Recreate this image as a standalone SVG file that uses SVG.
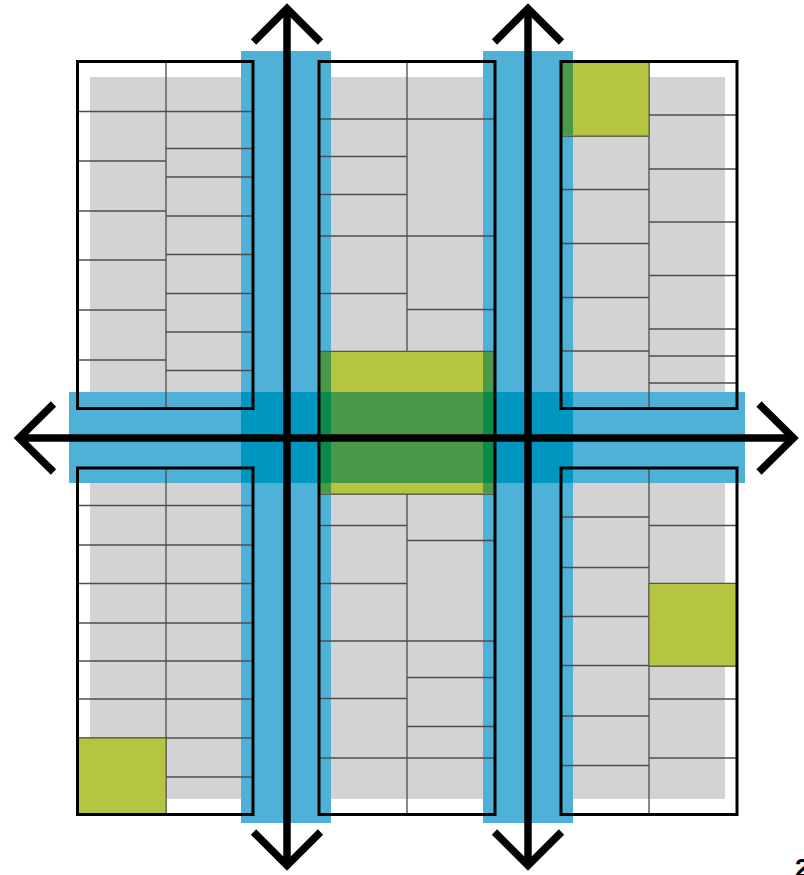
<svg xmlns="http://www.w3.org/2000/svg" width="804" height="875" viewBox="0 0 804 875">
<style>
.gray{fill:#d3d3d3}
.blue{fill:#4fb0d8}
.blue2{fill:#0096c0}
.cell{stroke:#4d4d4d;stroke-width:1.3;fill:none}
.green{fill:#b5c542;stroke:#5a5a3a;stroke-width:1}
.g1{fill:#4a994b}
.g2{fill:#0b8a4a}
.outline{fill:none;stroke:#000;stroke-width:3}
.axis{fill:none;stroke:#000;stroke-width:7.5;stroke-linejoin:miter;stroke-miterlimit:10}
</style>
<rect width="804" height="875" fill="#fff"/>
<g id="gray-fill">
<rect class="gray" x="90" y="77" width="163" height="331"/>
<rect class="gray" x="90" y="468" width="163" height="331"/>
<rect class="gray" x="319" y="77" width="176" height="722"/>
<rect class="gray" x="561" y="77" width="164" height="331"/>
<rect class="gray" x="561" y="468" width="164" height="331"/>
</g>
<g id="corridors">
<rect class="blue" x="241" y="51" width="90" height="772"/>
<rect class="blue" x="483" y="51" width="90" height="772"/>
<rect class="blue" x="69" y="392" width="676" height="91"/>
<rect class="blue2" x="241" y="392" width="90" height="91"/>
<rect class="blue2" x="483" y="392" width="90" height="91"/>
</g>
<g id="block-tl">
<path class="cell" d="M166 61.5V408.5M77.5 111.5H253M77.5 161H166M77.5 211H166M77.5 260H166M77.5 310H166M77.5 360H166M166 148.5H253M166 177H253M166 216H253M166 254.5H253M166 293.5H253M166 332H253M166 370.5H253"/>
</g>
<g id="block-bl">
<path class="cell" d="M166 468V814.5M77.5 505.5H253M77.5 545H253M77.5 583.5H253M77.5 623H253M77.5 661H253M77.5 699H253M77.5 738H253M166 777H253"/>
</g>
<g id="block-c">
<path class="cell" d="M407 61.5V814.5M319 119H495M319 236H495M319 351.5H495M319 494H495M319 641H495M319 758H495M319 156.5H407M319 194.5H407M319 293.5H407M319 525.5H407M319 583.5H407M319 698.5H407M407 309.5H495M407 540.5H495M407 677.5H495M407 726.5H495"/>
</g>
<g id="block-tr">
<path class="cell" d="M649 61.5V408.5M561 136H649M561 189.5H649M561 243.5H649M561 297.5H649M561 351H649M649 115H737M649 169H737M649 222H737M649 275.5H737M649 329H737M649 356H737M649 383H737"/>
</g>
<g id="block-br">
<path class="cell" d="M649 468V814.5M561 517H649M561 567.5H649M561 616.5H649M561 665.5H649M561 716H649M561 765.5H649M649 525.5H737M649 583.5H737M649 666H737M649 699H737M649 758H737"/>
</g>
<g id="green-areas">
<rect class="green" x="319" y="351.5" width="176" height="142.5"/>
<rect class="g1" x="319.5" y="392" width="175" height="91"/>
<rect class="g1" x="319.5" y="352" width="11.5" height="141.5"/>
<rect class="g1" x="483" y="352" width="11.5" height="141.5"/>
<rect class="g2" x="319.5" y="392" width="11.5" height="91"/>
<rect class="g2" x="483" y="392" width="11.5" height="91"/>
<rect class="green" x="561" y="61.5" width="88" height="74.5"/>
<rect class="g1" x="561" y="62" width="12" height="73.5"/>
<rect class="green" x="77.5" y="738" width="88.5" height="76.5"/>
<rect class="green" x="649" y="583.5" width="88" height="82.5"/>
</g>
<g id="outlines">
<rect class="outline" x="77.5" y="61.5" width="175.5" height="347"/>
<rect class="outline" x="77.5" y="468" width="175.5" height="346.5"/>
<rect class="outline" x="319" y="61.5" width="176" height="753"/>
<rect class="outline" x="561" y="61.5" width="176" height="347"/>
<rect class="outline" x="561" y="468" width="176" height="346.5"/>
</g>
<g id="connectors">
<path class="axis" d="M287 8V866"/>
<path class="axis" d="M528 8V866"/>
<path class="axis" d="M18.6 438H793.7"/>
<path class="axis" d="M253.5 42L287 8.5L320.5 42"/>
<path class="axis" d="M494.5 42L528 8.5L561.5 42"/>
<path class="axis" d="M253.5 832L287 865.5L320.5 832"/>
<path class="axis" d="M494.5 832L528 865.5L561.5 832"/>
<path class="axis" d="M53.5 404L19 438L53.5 472"/>
<path class="axis" d="M759 404L793.5 438L759 472"/>
</g>
<text x="795" y="877" font-family="Liberation Sans, Arial, sans-serif" font-weight="bold" font-size="26" fill="#000">2</text>
</svg>
